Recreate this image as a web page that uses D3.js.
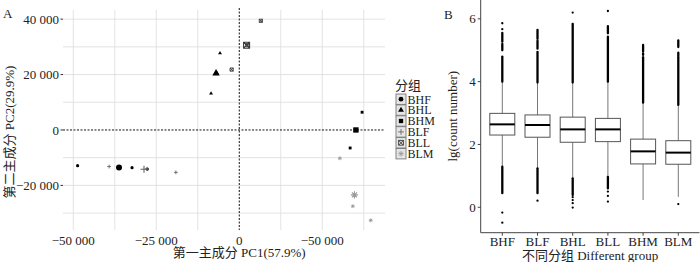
<!DOCTYPE html>
<html>
<head>
<meta charset="utf-8">
<script src="https://cdn.jsdelivr.net/npm/d3@7"></script>
<style>
  body { margin: 0; background: #fff; }
  text { font-family: "Liberation Serif", "Noto Sans CJK SC", serif; fill: #222; }
</style>
</head>
<body>
<div class="canvas"></div>
<script>
// ---- panel A: PCA samples (3 per group) ----
const groups = ["BHF", "BHL", "BHM", "BLF", "BLL", "BLM"];
const sampleGroup = ["BHF", "BHF", "BHF", "BHL", "BHL", "BHL", "BHM", "BHM", "BHM",
                     "BLF", "BLF", "BLF", "BLL", "BLL", "BLL", "BLM", "BLM", "BLM"];
const samplePC1 = [-48700, -32300, -27700, -5800, -8500, -6700, 37000, 33400, 35000,
                   -39200, -19100, -27800, -2300, 6500, 2400, 30300, 34200, 39600];
const samplePC2 = [-12900, -13600, -14100, 27700, 13200, 20500, 6400, -6500, 100,
                   -13200, -15300, -14000, 21800, 39400, 30600, -10200, -27500, -32600];
const xTicks = [-50000, -25000, 0, 25000];
const xTickLabels = ["\u221250 000", "\u221225 000", "0", "\u221250 000"];
const yTicks = [40000, 20000, 0, -20000];
const yTickLabels = ["40 000", "20 000", "0", "\u221220 000"];

// ---- panel B: boxplots of lg(count number) ----
const boxGroups = ["BHF", "BLF", "BHL", "BLL", "BHM", "BLM"];
const boxQ1 = [2.30, 2.23, 2.07, 2.09, 1.38, 1.37];
const boxMedian = [2.64, 2.62, 2.48, 2.48, 1.78, 1.74];
const boxQ3 = [2.99, 2.94, 2.87, 2.83, 2.17, 2.12];
const whiskerLow = [1.29, 1.24, 0.92, 0.97, 0.23, 0.33];
const whiskerHigh = [4.0, 3.97, 3.97, 4.0, 3.33, 3.26];
// dense outlier runs [from, to]; a single dot has from == to
const outlierRuns = [
  [[4.0, 4.8], [5.0, 5.2], [5.27, 5.55], [5.67, 5.67], [5.86, 5.86], [0.45, 1.29], [-0.17, -0.17], [-0.49, -0.49]],
  [[3.97, 4.95], [5.05, 5.3], [5.36, 5.65], [0.45, 1.24], [0.21, 0.21]],
  [[3.97, 5.84], [6.2, 6.2], [0.39, 0.92], [0.32, 0.32], [0.23, 0.23], [0.13, 0.13], [-0.01, -0.01]],
  [[4.0, 5.43], [5.54, 5.77], [6.25, 6.25], [0.6, 0.97], [0.5, 0.5], [0.36, 0.36], [0.18, 0.18]],
  [[3.33, 4.78], [4.85, 4.9], [4.96, 5.17]],
  [[3.26, 4.78], [4.82, 4.92], [5.1, 5.31], [0.1, 0.1]]
];
const yTicksB = [0, 2, 4, 6];

const width = 700, height = 262;
const svg = d3.select('.canvas').append('svg')
  .attr('width', width).attr('height', height)
  .style('font-size', '13px');

// ================= panel A =================
const ax = d3.scaleLinear().domain([-53100, 43900]).range([63, 385]);
const ay = d3.scaleLinear().domain([-36100, 43300]).range([230, 10]);

const color = d3.scaleOrdinal(groups, ["#000", "#000", "#000", "#666", "#3a3a3a", "#9a9a9a"]);
const shape = d3.scaleOrdinal(groups, ["circle", "triangle", "square", "plus", "boxcross", "asterisk"]);

function marker(kind, r) {
  if (kind === "circle") return d3.symbol(d3.symbolCircle, Math.PI * r * r)();
  if (kind === "triangle") return d3.symbol(d3.symbolTriangle, r * r * 2.6)();
  if (kind === "square") return d3.symbol(d3.symbolSquare, r * r * 3.2)();
  if (kind === "plus") return `M${-r * 1.2},0H${r * 1.2}M0,${-r * 1.2}V${r * 1.2}`;
  if (kind === "boxcross") return `M${-r},${-r}H${r}V${r}H${-r}ZM${-r},${-r}L${r},${r}M${r},${-r}L${-r},${r}`;
  const k = r * 0.85;
  return `M${-r * 1.2},0H${r * 1.2}M0,${-r * 1.2}V${r * 1.2}M${-k},${-k}L${k},${k}M${k},${-k}L${-k},${k}`;
}
const filled = k => k === "circle" || k === "triangle" || k === "square";

const gA = svg.append('g');
// grid
gA.selectAll('line.gx')
  .data(d3.range(-50000, 40000, 12500).filter(v => v !== 0))
  .join('line')
  .attr('x1', d => ax(d)).attr('x2', d => ax(d))
  .attr('y1', ay.range()[1]).attr('y2', ay.range()[0])
  .attr('stroke', '#dcdcdc').attr('stroke-width', 0.8);
gA.selectAll('line.gy')
  .data(d3.range(-30000, 40001, 10000).filter(v => v !== 0))
  .join('line')
  .attr('x1', ax.range()[0]).attr('x2', ax.range()[1])
  .attr('y1', d => ay(d)).attr('y2', d => ay(d))
  .attr('stroke', '#dcdcdc').attr('stroke-width', 0.8);
// zero lines
gA.append('line')
  .attr('x1', ax(0)).attr('x2', ax(0)).attr('y1', ay.range()[1] - 2).attr('y2', ay.range()[0])
  .attr('stroke', '#111').attr('stroke-width', 1).attr('stroke-dasharray', '2,1.5');
gA.append('line')
  .attr('x1', ax.range()[0]).attr('x2', ax.range()[1]).attr('y1', ay(0)).attr('y2', ay(0))
  .attr('stroke', '#111').attr('stroke-width', 1).attr('stroke-dasharray', '2,1.5');

// ticks
gA.selectAll('text.yt').data(yTicks).join('text')
  .attr('x', 59).attr('y', d => ay(d)).attr('dy', '0.35em')
  .attr('text-anchor', 'end').text((d, i) => yTickLabels[i]);
gA.selectAll('line.yt').data(yTicks).join('line')
  .attr('x1', 60.5).attr('x2', 63).attr('y1', d => ay(d)).attr('y2', d => ay(d))
  .attr('stroke', '#333');
gA.selectAll('text.xt').data(xTicks).join('text')
  .attr('x', d => ax(d)).attr('y', 244.5)
  .attr('text-anchor', 'middle').text((d, i) => xTickLabels[i]);

// samples + centroids
const samples = sampleGroup.map((g, i) => ({ g, x: samplePC1[i], y: samplePC2[i] }));
const centroids = groups.map(g => {
  const s = samples.filter(d => d.g === g);
  return { g, x: d3.mean(s, d => d.x), y: d3.mean(s, d => d.y) };
});
function drawPoints(data, r, sw) {
  gA.append('g').selectAll('path').data(data).join('path')
    .attr('transform', d => `translate(${ax(d.x)},${ay(d.y)})`)
    .attr('d', d => marker(shape(d.g), r))
    .attr('fill', d => filled(shape(d.g)) ? color(d.g) : 'none')
    .attr('stroke', d => filled(shape(d.g)) ? 'none' : color(d.g))
    .attr('stroke-width', sw);
}
drawPoints(samples, 1.6, 0.9);
drawPoints(centroids, 3, 1.1);

// axis titles
gA.append('text').attr('x', ax(0)).attr('y', 257).attr('text-anchor', 'middle')
  .text('第一主成分 PC1(57.9%)');
gA.append('text').attr('transform', 'translate(14,132) rotate(-90)').attr('text-anchor', 'middle')
  .text('第二主成分 PC2(29.9%)');
svg.append('text').attr('x', 3).attr('y', 18).text('A');

// legend
const lg = svg.append('g').attr('transform', 'translate(396,0)').style('font-size', '12px');
lg.append('text').attr('x', -1).attr('y', 90).style('font-size', '13px').text('分组');
const item = lg.selectAll('g').data(groups).join('g')
  .attr('transform', (d, i) => `translate(0,${94 + i * 10.9})`);
item.append('rect').attr('width', 10).attr('height', 10.4)
  .attr('fill', '#e6e6e6').attr('stroke', '#777').attr('stroke-width', 0.9);
item.append('path')
  .attr('transform', 'translate(5,5.2)')
  .attr('d', d => marker(shape(d), 2.4))
  .attr('fill', d => filled(shape(d)) ? color(d) : 'none')
  .attr('stroke', d => filled(shape(d)) ? 'none' : color(d))
  .attr('stroke-width', 0.9);
item.append('text').attr('x', 11.5).attr('y', 5.2).attr('dy', '0.36em').text(d => d);

// ================= panel B =================
const bx = d3.scalePoint().domain(boxGroups).range([502.3, 678.3]);
const by = d3.scaleLinear().domain([-0.81, 6.6]).range([232.7, 0]);
const bw = 25;
const gB = svg.append('g');

const box = gB.selectAll('g.box').data(boxGroups).join('g')
  .attr('transform', d => `translate(${bx(d)},0)`);
box.append('line').attr('y1', (d, i) => by(whiskerHigh[i])).attr('y2', (d, i) => by(boxQ3[i]))
  .attr('stroke', '#777').attr('stroke-width', 1);
box.append('line').attr('y1', (d, i) => by(boxQ1[i])).attr('y2', (d, i) => by(whiskerLow[i]))
  .attr('stroke', '#777').attr('stroke-width', 1);
box.append('rect')
  .attr('x', -bw / 2).attr('width', bw)
  .attr('y', (d, i) => by(boxQ3[i])).attr('height', (d, i) => by(boxQ1[i]) - by(boxQ3[i]))
  .attr('fill', '#fff').attr('stroke', '#555').attr('stroke-width', 1);
box.append('line').attr('x1', -bw / 2).attr('x2', bw / 2)
  .attr('y1', (d, i) => by(boxMedian[i])).attr('y2', (d, i) => by(boxMedian[i]))
  .attr('stroke', '#000').attr('stroke-width', 2);
box.each(function (d, i) {
  d3.select(this).selectAll('line.out').data(outlierRuns[i]).join('line')
    .attr('y1', r => by(r[0])).attr('y2', r => by(r[1]))
    .attr('stroke', '#000').attr('stroke-width', 2.3).attr('stroke-linecap', 'round');
});

// axes
const x0 = 480.7, x1 = 699.5, yb = 232.7;
gB.append('line').attr('x1', x0).attr('x2', x0).attr('y1', 0).attr('y2', yb).attr('stroke', '#444');
gB.append('line').attr('x1', x0).attr('x2', x1).attr('y1', yb).attr('y2', yb).attr('stroke', '#444');
gB.selectAll('line.ty').data(yTicksB).join('line')
  .attr('x1', x0 - 3).attr('x2', x0).attr('y1', d => by(d)).attr('y2', d => by(d)).attr('stroke', '#444');
gB.selectAll('text.ty').data(yTicksB).join('text')
  .attr('x', x0 - 5).attr('y', d => by(d)).attr('dy', '0.35em').attr('text-anchor', 'end')
  .text(d => d);
gB.selectAll('line.tx').data(boxGroups).join('line')
  .attr('x1', d => bx(d)).attr('x2', d => bx(d)).attr('y1', yb).attr('y2', yb + 3).attr('stroke', '#444');
gB.selectAll('text.tx').data(boxGroups).join('text')
  .attr('x', d => bx(d)).attr('y', 246).attr('text-anchor', 'middle').text(d => d);
gB.append('text').attr('x', (x0 + x1) / 2).attr('y', 259.5).attr('text-anchor', 'middle')
  .text('不同分组 Different group');
gB.append('text').attr('transform', `translate(457,${by(2.9)}) rotate(-90)`).attr('text-anchor', 'middle')
  .text('lg(count number)');
svg.append('text').attr('x', 444).attr('y', 19).text('B');
</script>
</body>
</html>
